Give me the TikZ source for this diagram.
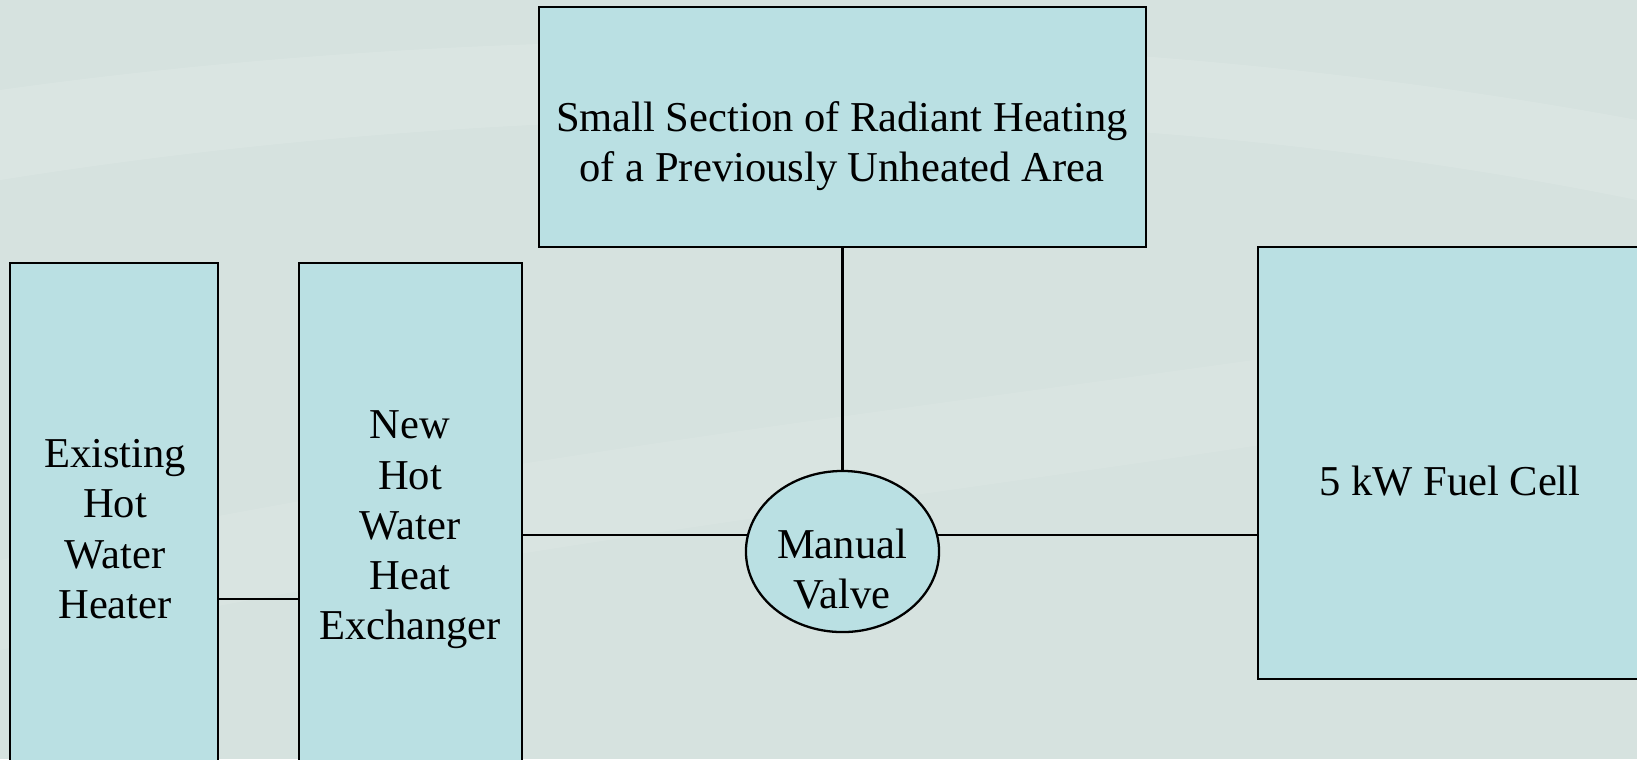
\documentclass[tikz,border=0pt]{standalone}
\usepackage{fontspec}
\setmainfont{Liberation Serif}
\usetikzlibrary{shapes.geometric}
\definecolor{bgcol}{RGB}{214,226,223}
\definecolor{boxcol}{RGB}{186,224,227}

\begin{document}
\begin{tikzpicture}[x=0.01cm,y=-0.01cm,
    part/.style={draw=black,line width=0.65pt,fill=boxcol,inner sep=0pt},
    lbl/.style={align=center,inner sep=0pt,font=\fontsize{12.1}{14.3}\selectfont},
    pipe/.style={draw=black,line width=0.65pt}]
      \useasboundingbox (0,0) rectangle (1637,759);
      \clip (0,0) rectangle (1637,759);
      \fill[bgcol] (0,0) rectangle (1637,759);
      % faint waves of the backdrop
      \fill[white,opacity=0.12] (0,90) .. controls (500,20) and (1100,20) .. (1637,120)
        -- (1637,200) .. controls (1100,90) and (500,100) .. (0,180) -- cycle;
      \fill[white,opacity=0.08] (0,560) .. controls (600,430) and (1200,380) .. (1637,300)
        -- (1637,380) .. controls (1200,470) and (600,520) .. (0,650) -- cycle;
      % parts
      \node[part,rectangle,minimum width=6.07cm,minimum height=2.4cm] (area) at (842.5,127) {};
      \node[part,rectangle,minimum width=2.08cm,minimum height=5.4cm] (heater) at (114,533) {};
      \node[part,rectangle,minimum width=2.23cm,minimum height=5.4cm] (exch) at (410.5,533) {};
      \node[part,ellipse,minimum width=1.93cm,minimum height=1.61cm] (valve) at (842.5,551.5) {};
      \node[part,rectangle,minimum width=3.92cm,minimum height=4.32cm] (fuel) at (1454,463) {};
      % pipes
      \draw[pipe] (area.south) -- (valve.north);
      \draw[pipe] (exch.east |- valve.170) -- (valve.170);
      \draw[pipe] (valve.10) -- (valve.10 -| fuel.west);
      \draw[pipe] ([yshift=-0.66cm]heater.east) -- ([yshift=-0.66cm]exch.west);
      % labels
      \node[lbl] (areatxt) at (842,146) {Small Section of Radiant Heating\\ of a Previously Unheated Area};
      \node[lbl] (heatertxt) at (115,529) {Existing\\Hot\\Water\\Heater};
      \node[lbl] (exchtxt) at (410,530) {New\\Hot\\Water\\Heat\\Exchanger};
      \node[lbl] (valvetxt) at (842,569) {Manual\\Valve};
      \node[lbl] (fueltxt) at (1450,481) {5 kW Fuel Cell};
\end{tikzpicture}
\end{document}
